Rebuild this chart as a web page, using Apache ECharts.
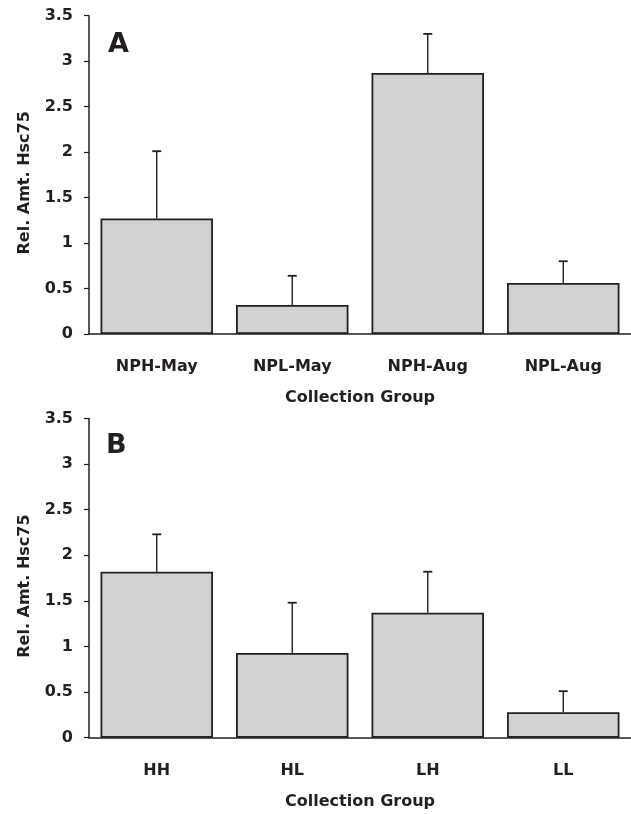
<!DOCTYPE html>
<html>
<head>
<meta charset="utf-8">
<script src="https://cdn.jsdelivr.net/npm/echarts@6/dist/echarts.min.js"></script>
<style>
html,body{margin:0;padding:0;background:#fff;}
#main{width:631px;height:814px;}
</style>
</head>
<body>
<div id="main"></div>
<script>
// panel A
let groupsA = ["NPH-May","NPL-May","NPH-Aug","NPL-Aug"];
let meansA = [1.27,0.32,2.87,0.56];
let errA = [0.74,0.32,0.43,0.24];
// panel B
let groupsB = ["HH","HL","LH","LL"];
let meansB = [1.82,0.93,1.37,0.28];
let errB = [0.41,0.55,0.45,0.23];
// y axis
let yMin = 0, yMax = 3.5, yStep = 0.5;

let ink = "#231f20";
let fnt = "DejaVu Sans";
let myEchart = echarts.init(document.getElementById("main"), null, {renderer:"canvas"});

function errorItem(params, api){
	let x = api.value(0), m = api.value(1), e = api.value(2);
	let p0 = api.coord([x, m]);
	let p1 = api.coord([x, m+e]);
	let st = {stroke:ink, lineWidth:1.4};
	return {
		type:"group",
		children:[
			{type:"line", shape:{x1:p0[0],y1:p0[1],x2:p1[0],y2:p1[1]}, style:st},
			{type:"line", shape:{x1:p1[0]-4.5,y1:p1[1],x2:p1[0]+4.5,y2:p1[1]}, style:{stroke:ink, lineWidth:1.8}}
		]
	};
}

function xAx(idx, cats){
	return {
		type:"category", gridIndex:idx, data:cats,
		name:"Collection Group", nameLocation:"middle", nameGap:56,
		nameTextStyle:{color:ink, fontFamily:fnt, fontWeight:"bold", fontSize:16},
		axisLine:{lineStyle:{color:ink, width:1.5}},
		axisTick:{show:false},
		axisLabel:{color:ink, fontFamily:fnt, fontWeight:"bold", fontSize:16, margin:25},
		splitLine:{show:false}
	};
}
function yAx(idx){
	return {
		type:"value", gridIndex:idx, min:yMin, max:yMax, interval:yStep,
		name:"Rel. Amt. Hsc75", nameLocation:"middle", nameGap:56, nameRotate:90,
		nameTextStyle:{color:ink, fontFamily:fnt, fontWeight:"bold", fontSize:16, padding:[0,16,0,0]},
		axisLine:{show:true, lineStyle:{color:ink, width:1.5}},
		axisTick:{show:true, length:5, lineStyle:{color:ink, width:1.2}},
		axisLabel:{color:ink, fontFamily:fnt, fontWeight:"bold", fontSize:16, margin:16},
		splitLine:{show:false}
	};
}
function barS(idx, vals){
	return {
		type:"bar", xAxisIndex:idx, yAxisIndex:idx, data:vals,
		barCategoryGap:"17%",
		itemStyle:{color:"#d1d2d4", borderColor:ink, borderWidth:1.8},
		silent:true
	};
}
function errS(idx, vals, errs){
	return {
		type:"custom", xAxisIndex:idx, yAxisIndex:idx,
		renderItem:errorItem,
		encode:{x:0, y:1},
		data:vals.map((v,i)=>[i, v, errs[i]]),
		z:3, silent:true
	};
}

let opt = {
	animation:false,
	backgroundColor:"#fff",
	grid:[
		{left:89, top:15.7, width:545, height:318.3},
		{left:89, top:418.5, width:545, height:319.2}
	],
	xAxis:[xAx(0, groupsA), xAx(1, groupsB)],
	yAxis:[yAx(0), yAx(1)],
	graphic:[
		{type:"text", left:108, top:31, style:{text:"A", font:"bold 27px DejaVu Sans", fill:ink}},
		{type:"text", left:106, top:432, style:{text:"B", font:"bold 27px DejaVu Sans", fill:ink}}
	],
	series:[
		barS(0, meansA), errS(0, meansA, errA),
		barS(1, meansB), errS(1, meansB, errB)
	]
};
myEchart.setOption(opt);
</script>
</body>
</html>
